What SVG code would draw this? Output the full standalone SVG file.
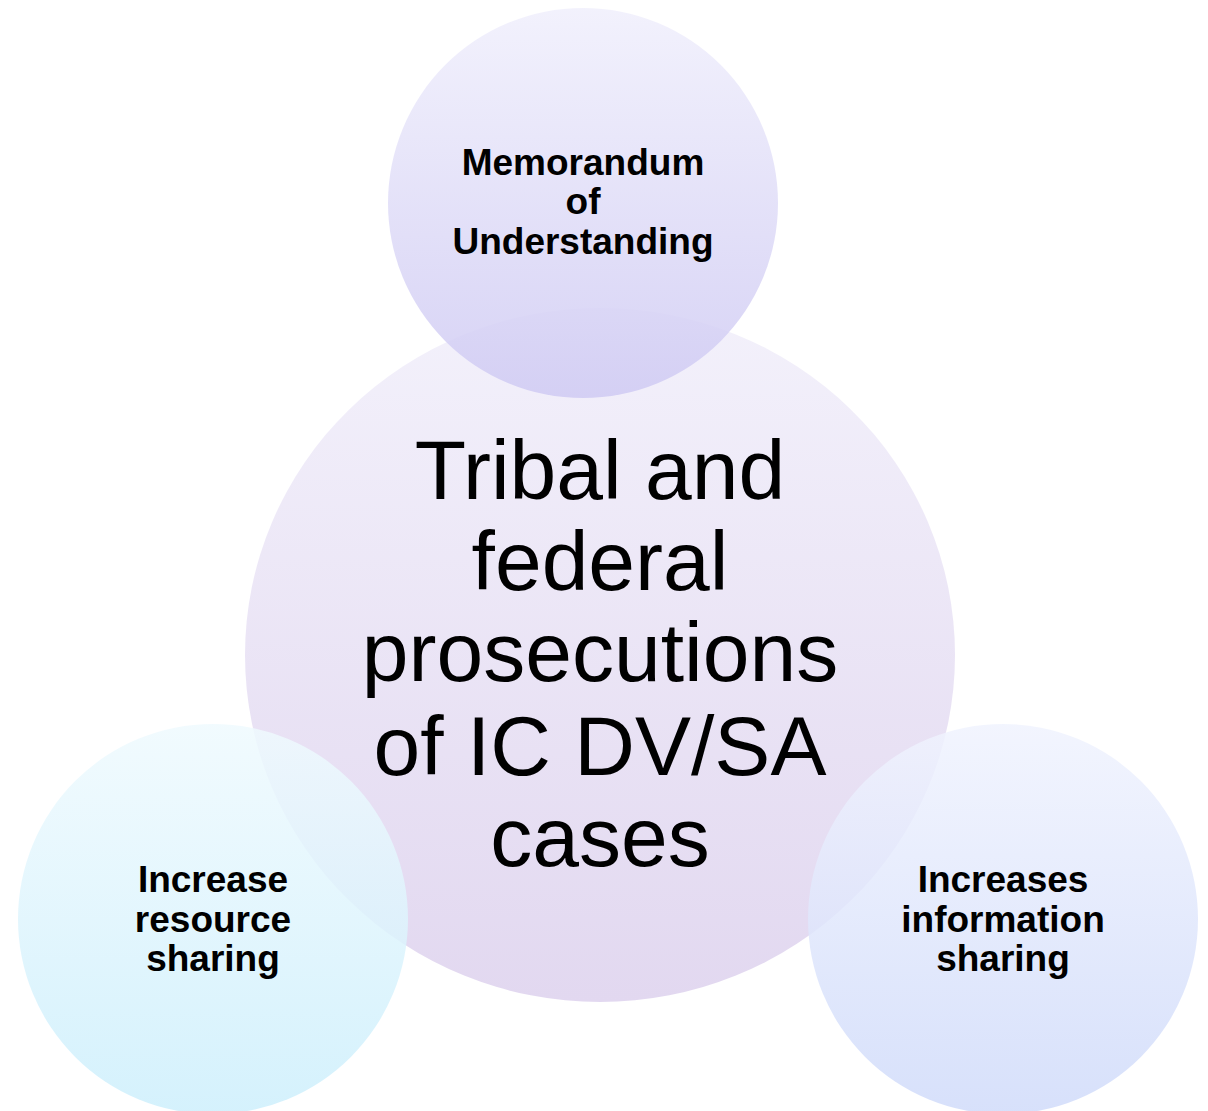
<svg xmlns="http://www.w3.org/2000/svg" width="1208" height="1111" viewBox="0 0 1208 1111">
<defs>
<linearGradient id="gC" x1="0" y1="0" x2="0" y2="1">
<stop offset="0" stop-color="#F3F1FB"/><stop offset="1" stop-color="#E2D8F0"/>
</linearGradient>
<linearGradient id="gT" x1="0" y1="0" x2="0" y2="1">
<stop offset="0" stop-color="#F0EFFC"/><stop offset="1" stop-color="#CFCAF3"/>
</linearGradient>
<linearGradient id="gL" x1="0" y1="0" x2="0" y2="1">
<stop offset="0" stop-color="#EFFAFE"/><stop offset="1" stop-color="#CDEFFC"/>
</linearGradient>
<linearGradient id="gR" x1="0" y1="0" x2="0" y2="1">
<stop offset="0" stop-color="#F0F3FE"/><stop offset="1" stop-color="#D0DBFA"/>
</linearGradient>
<style>
.sm{font-family:"Liberation Sans",Arial,sans-serif;font-weight:bold;font-size:37px;fill:#000;text-anchor:middle}
.big{font-family:"Liberation Sans",Arial,sans-serif;font-size:84px;fill:#000;text-anchor:middle}
.c{opacity:0.85}
</style>
</defs>
<rect width="1208" height="1111" fill="#FFFFFF"/>
<g id="center">
<ellipse cx="600" cy="655" rx="355" ry="347" fill="url(#gC)"/>
</g>
<g id="top">
<circle class="c" cx="583" cy="203" r="195" fill="url(#gT)"/>
</g>
<g id="left">
<circle class="c" cx="213" cy="919" r="195" fill="url(#gL)"/>
</g>
<g id="right">
<circle class="c" cx="1003" cy="919" r="195" fill="url(#gR)"/>
</g>
<g id="center-text">
<text class="big" x="600" y="499">Tribal and</text>
<text class="big" x="600" y="590">federal</text>
<text class="big" x="600" y="681">prosecutions</text>
<text class="big" x="600" y="775">of IC DV/SA</text>
<text class="big" x="600" y="866">cases</text>
</g>
<g id="top-text">
<text class="sm" x="583" y="175">Memorandum</text>
<text class="sm" x="583" y="214">of</text>
<text class="sm" x="583" y="254">Understanding</text>
</g>
<g id="left-text">
<text class="sm" x="213" y="892">Increase</text>
<text class="sm" x="213" y="932">resource</text>
<text class="sm" x="213" y="971">sharing</text>
</g>
<g id="right-text">
<text class="sm" x="1003" y="892">Increases</text>
<text class="sm" x="1003" y="932">information</text>
<text class="sm" x="1003" y="971">sharing</text>
</g>
<g id="connectors"/>
</svg>
